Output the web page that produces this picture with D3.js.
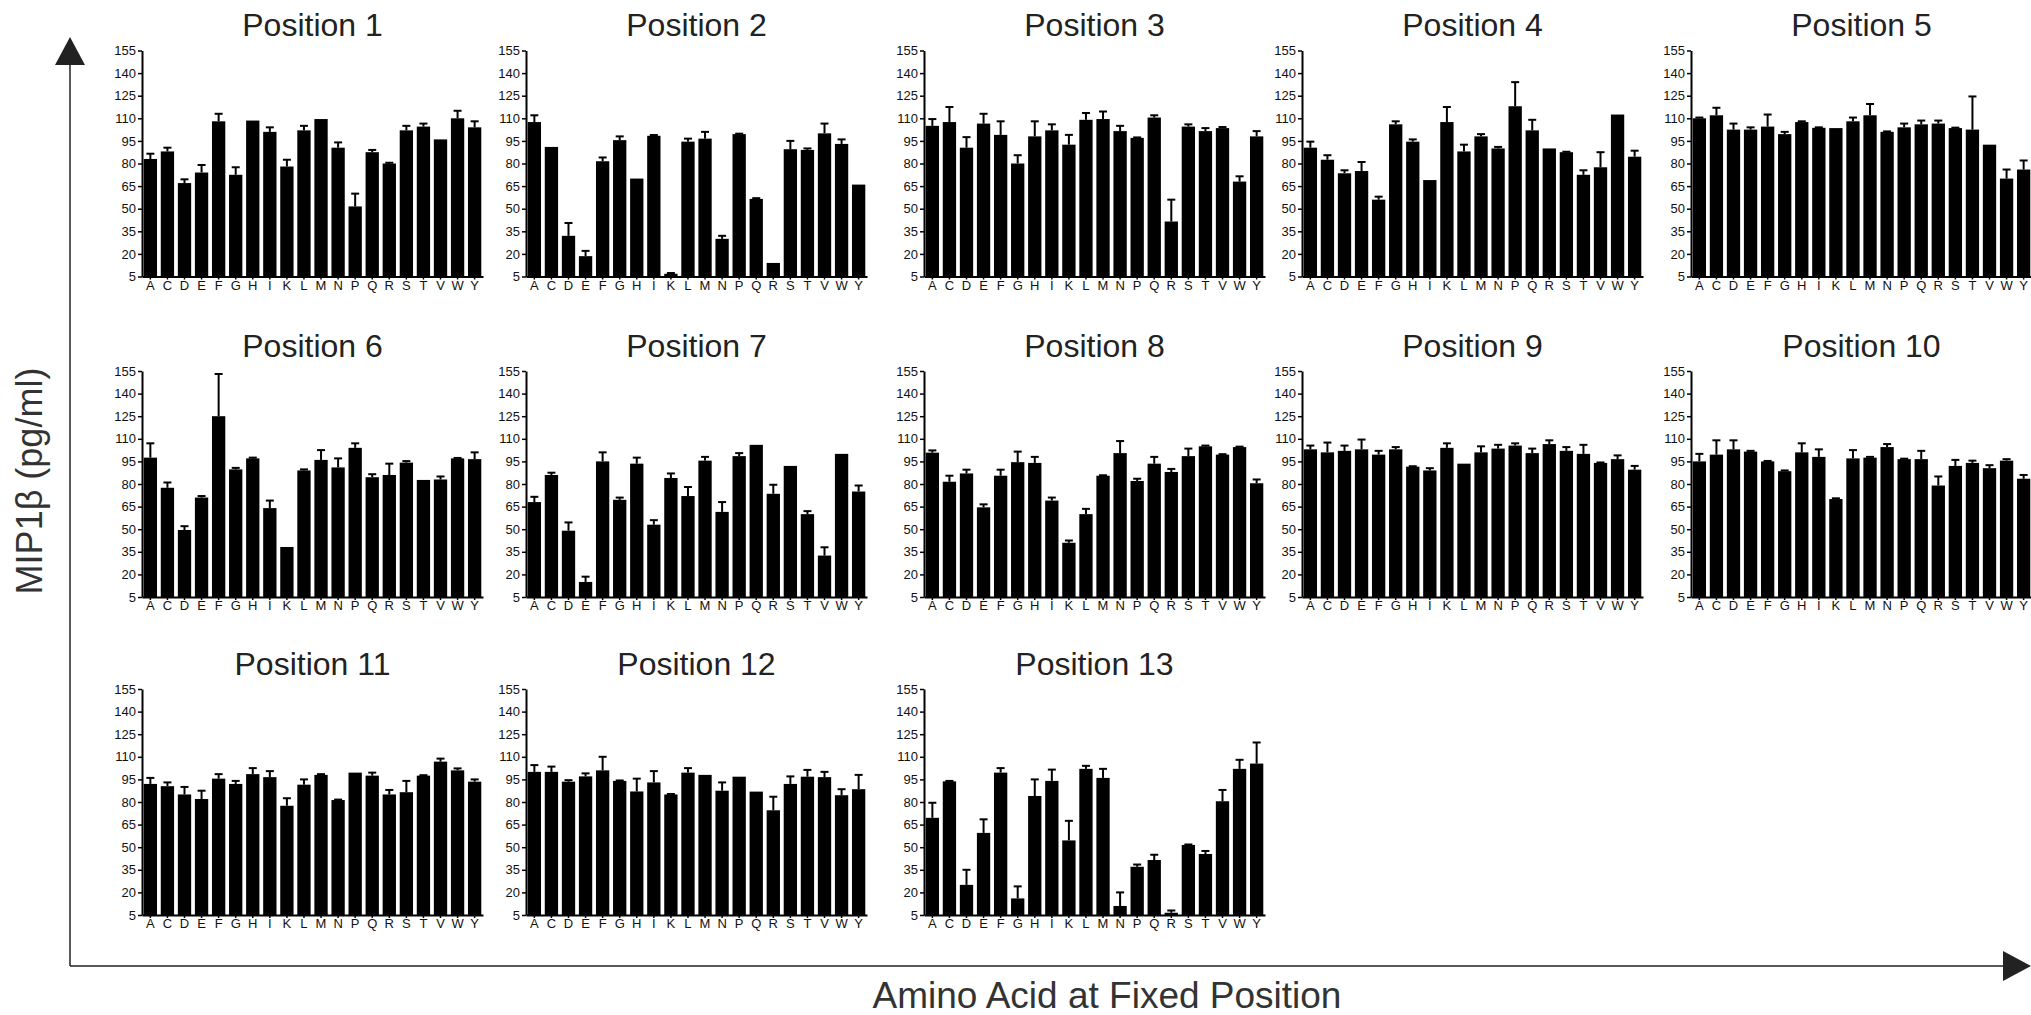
<!DOCTYPE html>
<html>
<head>
<meta charset="utf-8">
<script src="https://cdn.jsdelivr.net/npm/d3@7"></script>
<style>
  body { margin: 0; background: #fff; }
  svg { display: block; font-family: "Liberation Sans", Arial, sans-serif; }
</style>
</head>
<body>
<svg id="chart" width="2031" height="1015"></svg>
<script>
// amino acid categories and y ticks
const aminoAcids = ['A','C','D','E','F','G','H','I','K','L','M','N','P','Q','R','S','T','V','W','Y']
const yTicks = [5, 20, 35, 50, 65, 80, 95, 110, 125, 140, 155]

// mean MIP1b (pg/ml) and upper error per position
const position1    = [83, 88, 67, 74, 108, 72.5, 108.5, 101, 78, 102, 109.5, 90.5, 51.5, 87.5, 80, 102, 104.5, 96, 110, 104]
const position1Err = [3.5, 2.5, 2.5, 5, 5, 5, 0, 3, 4.5, 3, 0, 3.5, 8.5, 1.5, 0.5, 3, 2, 0, 5, 4]
const position2    = [107.5, 91, 32, 18.5, 81.5, 95.5, 70, 98.4, 6.8, 94.5, 96.5, 30, 99.5, 56.5, 14, 89.5, 89, 100, 93, 66]
const position2Err = [4.5, 0, 8.5, 3.5, 2.5, 2.5, 0, 0.5, 0.5, 2, 4.5, 2, 0.3, 0.5, 0, 5.5, 1, 6.5, 3, 0]
const position3    = [105, 107.5, 90.5, 106.5, 99, 80, 98, 102, 92.5, 109, 109.5, 101.5, 97, 110.5, 41.5, 104.5, 101.5, 103.5, 68, 98]
const position3Err = [4.5, 10, 7, 6.5, 9, 5.5, 10, 4, 6.5, 4.5, 5, 3.5, 0.3, 1.5, 14.5, 1.5, 2, 0.7, 3.5, 3.5]
const position4    = [90.5, 82.5, 73.5, 75, 56, 106, 94.5, 69, 107.5, 88, 98, 90, 118, 102, 90, 87.5, 72.5, 77.5, 112.5, 84.5]
const position4Err = [4, 3, 2, 6, 2, 2, 1.5, 0, 10, 4.5, 1.5, 1, 16, 7, 0, 0.3, 3, 10, 0, 4]
const position5    = [110, 112, 102.5, 102.5, 104.5, 99.5, 107.5, 103.7, 103.5, 108, 112, 101, 104, 106, 106.5, 103.5, 102.5, 92.5, 70, 76]
const position5Err = [0.5, 5, 4, 1.5, 8, 1.5, 0.5, 0.3, 0, 2.5, 7.5, 0.3, 2.5, 2.5, 2, 0.3, 22, 0, 6, 6]
const position6    = [97.5, 77.5, 49.5, 71, 125, 89.7, 97, 64, 38.2, 89, 96, 91, 104, 84.5, 86, 94.2, 82.7, 83, 97, 96.5]
const position6Err = [9.5, 3.5, 2.5, 1, 28, 1, 0.5, 5, 0, 0.7, 6.5, 6, 3, 2, 7.5, 1, 0, 2, 0.3, 4.5]
const position7    = [68, 86, 49, 15, 95, 69.5, 93.5, 53, 84, 72, 95.5, 61.5, 98.5, 106, 73.5, 92, 60, 32.5, 100, 75]
const position7Err = [3.5, 1.5, 5.5, 3.5, 6, 1.5, 4, 3, 3, 6, 2.5, 6.5, 2, 0, 6, 0, 2, 5.5, 0, 4]
const position8    = [100.8, 81.5, 87, 64.5, 85.5, 94.5, 94, 69, 41, 60, 85.5, 100.5, 82, 93.5, 88, 98.5, 105, 99.5, 104.5, 80.5]
const position8Err = [1.5, 4, 2.5, 2, 4, 7, 4, 2, 1.5, 3.5, 0.3, 8, 1.5, 4.5, 2, 5, 0.5, 0.3, 0.3, 2.5]
const position9    = [103, 101, 102, 103, 99.5, 103, 91.5, 89, 104, 93.5, 101, 103.5, 105.5, 100.5, 106.5, 102, 100, 94, 96.5, 89.5]
const position9Err = [2.5, 6.5, 3.5, 6.5, 2.5, 1.5, 0.3, 1.5, 3, 0, 4, 2.5, 1.5, 3, 2.5, 2.5, 6, 0.3, 2.5, 2.5]
const position10    = [95, 99.5, 103, 101.5, 95, 88.5, 101, 98, 70, 97, 97.5, 104.5, 96.5, 96.5, 79, 92, 94, 90.5, 95.5, 83.5]
const position10Err = [5, 9.5, 6, 0.5, 0.3, 0.5, 6, 5, 0.5, 5.5, 0.5, 2, 0.3, 5.5, 6, 4, 1.5, 2, 1, 2.5]
const position11    = [92, 90.5, 85, 82, 95.5, 92, 98.5, 96.5, 77.5, 91.5, 98, 81.3, 99.5, 97.5, 85, 86.5, 97.5, 106.8, 101, 93.5]
const position11Err = [4, 2.5, 5, 5.5, 3, 2, 4, 4, 5, 3.5, 0.5, 0.3, 0, 2, 3, 7.5, 0.3, 2, 1.3, 1.5]
const position12    = [100, 100, 93.5, 97, 101, 94, 87, 93, 85, 99.5, 98, 87.5, 96.8, 86.9, 74.5, 92, 96.8, 96.5, 84.5, 88.5]
const position12Err = [4.5, 3.5, 1, 2, 9, 0.3, 8.5, 7.5, 0.3, 3, 0, 5.5, 0, 0, 9, 5, 4.5, 3.5, 4, 9.5]
const position13    = [69.5, 93.7, 25, 59.5, 99.5, 16, 84, 94, 54.5, 102, 96, 11, 37, 41.5, 6.5, 51.5, 45.5, 80.5, 102, 105.5]
const position13Err = [10, 0.3, 10, 9, 3, 8, 11, 7.5, 13, 2, 6, 9, 1.5, 3.5, 1.5, 0.3, 2, 7.5, 6, 14]

const panels = [
  ['Position 1', position1, position1Err],
  ['Position 2', position2, position2Err],
  ['Position 3', position3, position3Err],
  ['Position 4', position4, position4Err],
  ['Position 5', position5, position5Err],
  ['Position 6', position6, position6Err],
  ['Position 7', position7, position7Err],
  ['Position 8', position8, position8Err],
  ['Position 9', position9, position9Err],
  ['Position 10', position10, position10Err],
  ['Position 11', position11, position11Err],
  ['Position 12', position12, position12Err],
  ['Position 13', position13, position13Err]
]

const width = 2031
const height = 1015
const colX = [142, 526, 924, 1302, 1691]
const rowY = [50.5, 371, 689]
const plotW = 341
const plotH = 226

const svg = d3.select('#chart')

panels.forEach(([title, means, errs], i) => {
  const x0 = colX[i % 5]
  const y0 = rowY[Math.floor(i / 5)]

  const x = d3.scaleBand()
    .domain(aminoAcids)
    .range([x0, x0 + plotW])
    .paddingInner(0.22)
    .paddingOuter(0.1)

  const y = d3.scaleLinear()
    .domain([5, 155])
    .range([y0 + plotH, y0])

  const data = aminoAcids.map((aa, j) => ({aa, v: means[j], e: errs[j]}))
  const g = svg.append('g')

  // error bars first so the bar covers the stem base
  const eb = g.selectAll('g.err')
    .data(data.filter(d => d.e > 0))
    .join('g')
    .attr('class', 'err')
    .attr('stroke', '#000')
    .attr('stroke-width', 2)

  eb.append('line')
    .attr('x1', d => x(d.aa) + x.bandwidth() / 2)
    .attr('x2', d => x(d.aa) + x.bandwidth() / 2)
    .attr('y1', d => y(d.v))
    .attr('y2', d => y(d.v + d.e))

  eb.append('line')
    .attr('x1', d => x(d.aa) + x.bandwidth() / 2 - 4)
    .attr('x2', d => x(d.aa) + x.bandwidth() / 2 + 4)
    .attr('y1', d => y(d.v + d.e))
    .attr('y2', d => y(d.v + d.e))

  g.selectAll('rect.bar')
    .data(data)
    .join('rect')
    .attr('class', 'bar')
    .attr('x', d => x(d.aa))
    .attr('y', d => y(d.v))
    .attr('width', x.bandwidth())
    .attr('height', d => y(5) - y(d.v))
    .attr('fill', '#000')

  const yAxis = g.append('g')
    .attr('transform', `translate(${x0}, 0)`)
    .call(d3.axisLeft(y).tickValues(yTicks).tickSize(4).tickPadding(2).tickSizeOuter(0))
  yAxis.select('.domain').attr('stroke-width', 2)
  yAxis.selectAll('.tick line').attr('stroke-width', 1.5)
  yAxis.selectAll('text').attr('font-size', 13).attr('fill', '#111')

  const xAxis = g.append('g')
    .attr('transform', `translate(0, ${y0 + plotH})`)
    .call(d3.axisBottom(x).tickSize(3).tickPadding(1).tickSizeOuter(0))
  xAxis.select('.domain').attr('stroke-width', 2)
  xAxis.selectAll('.tick line').attr('stroke-width', 1.5)
  xAxis.selectAll('text').attr('font-size', 13).attr('fill', '#111')

  g.append('text')
    .attr('x', x0 + plotW / 2)
    .attr('y', y0 - 14.5)
    .attr('text-anchor', 'middle')
    .attr('font-size', 32)
    .attr('fill', '#222')
    .text(title)
})

// big outer axes with arrows
const axisX = 70
const axisY = 966
svg.append('line')
  .attr('x1', axisX).attr('x2', axisX)
  .attr('y1', axisY).attr('y2', 60)
  .attr('stroke', '#222').attr('stroke-width', 1.5)
svg.append('path')
  .attr('d', `M${axisX},37L${axisX - 15},65L${axisX + 15},65Z`)
  .attr('fill', '#222')
svg.append('line')
  .attr('x1', axisX).attr('x2', 2008)
  .attr('y1', axisY).attr('y2', axisY)
  .attr('stroke', '#222').attr('stroke-width', 1.5)
svg.append('path')
  .attr('d', `M${width},${axisY}L${2003},${axisY - 15}L${2003},${axisY + 15}Z`)
  .attr('fill', '#222')

svg.append('text')
  .attr('transform', `translate(42, 481) rotate(-90)`)
  .attr('text-anchor', 'middle')
  .attr('font-size', 36)
  .attr('fill', '#333')
  .text('MIP1β (pg/ml)')

svg.append('text')
  .attr('x', 1107)
  .attr('y', 1008)
  .attr('text-anchor', 'middle')
  .attr('font-size', 37)
  .attr('fill', '#333')
  .text('Amino Acid at Fixed Position')
</script>
</body>
</html>
